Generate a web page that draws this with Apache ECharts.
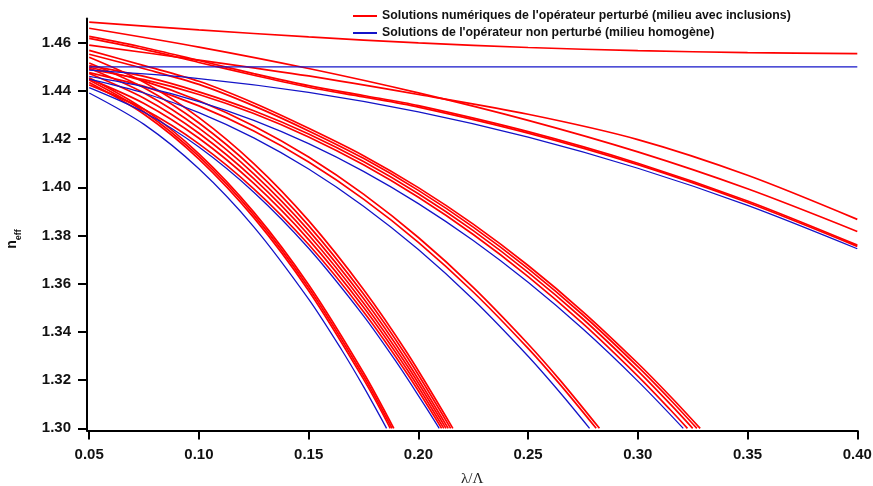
<!DOCTYPE html>
<html>
<head>
<meta charset="utf-8">
<script src="https://cdn.jsdelivr.net/npm/echarts@6/dist/echarts.min.js"></script>
<style>html,body{margin:0;padding:0;background:#fff}#c{width:873px;height:486px}</style>
</head>
<body>
<div id="c"></div>
<script>
// ---- tick labels ----
const xTicks = [0.05, 0.10, 0.15, 0.20, 0.25, 0.30, 0.35, 0.40];
const yTicks = [1.30, 1.32, 1.34, 1.36, 1.38, 1.40, 1.42, 1.44, 1.46];

const nameRed = "Solutions numériques de l'opérateur perturbé (milieu avec inclusions)";
const nameBlue = "Solutions de l'opérateur non perturbé (milieu homogène)";

// ---- red curves (perturbed operator) : [lambda/Lambda, n_eff] ----
const redTop = [[0.05,1.4685],[0.10,1.4653],[0.15,1.4624],[0.20,1.4599],[0.25,1.4580],[0.30,1.4567],[0.35,1.4559],[0.40,1.4555]];
const redB = [[0.05,1.4660],[0.10,1.4582],[0.15,1.4493],[0.20,1.4392],[0.25,1.4278],[0.30,1.4147],[0.35,1.3994],[0.40,1.3817]];
const redC = [[0.05,1.4590],[0.10,1.4528],[0.15,1.4462],[0.20,1.4385],[0.25,1.4303],[0.30,1.4198],[0.35,1.4050],[0.40,1.3867]];
const redA1 = [[0.05,1.4626],[0.075,1.4580],[0.10,1.4526],[0.125,1.4472],[0.15,1.4422],[0.175,1.4381],[0.20,1.4339],[0.25,1.4231],[0.30,1.4100],[0.35,1.3943],[0.40,1.3760]];
const redA2 = [[0.05,1.4618],[0.075,1.4572],[0.10,1.4518],[0.125,1.4465],[0.15,1.4415],[0.175,1.4375],[0.20,1.4333],[0.25,1.4225],[0.30,1.4094],[0.35,1.3937],[0.40,1.3755]];

const red32a = [[0.05,1.4490],[0.075,1.44465],[0.10,1.43853],[0.125,1.43062],[0.15,1.42090],[0.175,1.40932],[0.20,1.39584],[0.225,1.38041],[0.25,1.36295],[0.275,1.34340],[0.30,1.32165],[0.315,1.30750],[0.3226,1.30]];
const red32b = [[0.05,1.4505],[0.075,1.44600],[0.10,1.43962],[0.125,1.43178],[0.15,1.42215],[0.175,1.41067],[0.20,1.39732],[0.225,1.38203],[0.25,1.36473],[0.275,1.34536],[0.30,1.32382],[0.315,1.30981],[0.325,1.30]];
const red32c = [[0.05,1.4552],[0.075,1.4492],[0.10,1.4427],[0.125,1.4338],[0.15,1.4234],[0.175,1.41201],[0.20,1.39872],[0.225,1.38350],[0.25,1.36629],[0.275,1.34702],[0.30,1.32559],[0.315,1.31166],[0.3269,1.30]];
const red32d = [[0.05,1.4568],[0.075,1.4505],[0.10,1.4440],[0.125,1.4350],[0.15,1.4245],[0.175,1.41313],[0.20,1.39988],[0.225,1.38472],[0.25,1.36756],[0.275,1.34836],[0.30,1.32700],[0.315,1.31311],[0.3284,1.30]];

const red28a = [[0.05,1.4476],[0.075,1.44186],[0.10,1.43379],[0.125,1.42335],[0.15,1.41048],[0.175,1.39512],[0.20,1.37719],[0.225,1.35657],[0.25,1.33316],[0.265,1.31770],[0.281,1.30]];
const red28b = [[0.05,1.4498],[0.075,1.44404],[0.10,1.43595],[0.125,1.42548],[0.15,1.41257],[0.175,1.39716],[0.20,1.37917],[0.225,1.35849],[0.25,1.33500],[0.265,1.31949],[0.2825,1.30]];

const red21a = [[0.05,1.4425],[0.075,1.43235],[0.10,1.41802],[0.125,1.39937],[0.15,1.37625],[0.175,1.34840],[0.195,1.32253],[0.2106,1.30]];
const red21b = [[0.05,1.4450],[0.075,1.43478],[0.10,1.42036],[0.125,1.40159],[0.15,1.37830],[0.175,1.35027],[0.195,1.32422],[0.2116,1.30]];
const red21c = [[0.05,1.4472],[0.075,1.43694],[0.10,1.42245],[0.125,1.40360],[0.15,1.38021],[0.175,1.35204],[0.195,1.32587],[0.2126,1.30]];
const red21d = [[0.05,1.4494],[0.075,1.43910],[0.10,1.42454],[0.125,1.40561],[0.15,1.38213],[0.175,1.35383],[0.195,1.32755],[0.2136,1.30]];
const red21e = [[0.05,1.4516],[0.075,1.44126],[0.10,1.42667],[0.125,1.40768],[0.15,1.38412],[0.175,1.35574],[0.195,1.32937],[0.2147,1.30]];
const red21f = [[0.05,1.4540],[0.075,1.44361],[0.10,1.42894],[0.125,1.40985],[0.15,1.38617],[0.175,1.35764],[0.195,1.33113],[0.2157,1.30]];

const red18a = [[0.05,1.44350],[0.075,1.43034],[0.10,1.41173],[0.125,1.38741],[0.15,1.35711],[0.175,1.32040],[0.1872,1.30]];
const red18b = [[0.05,1.44450],[0.075,1.43138],[0.10,1.41281],[0.125,1.38856],[0.15,1.35834],[0.175,1.32173],[0.188,1.30]];
const red18c = [[0.05,1.44550],[0.075,1.43242],[0.10,1.41389],[0.125,1.38971],[0.15,1.35957],[0.175,1.32307],[0.1888,1.30]];

// ---- blue curves (unperturbed operator, homogeneous medium) ----
const blue0 = [[0.05,1.45],[0.40,1.45]];
const blue1 = [[0.05,1.44858],[0.10,1.44513],[0.15,1.43939],[0.20,1.43130],[0.25,1.42082],[0.30,1.40791],[0.35,1.39251],[0.40,1.37451]];
const blue2 = [[0.05,1.44600],[0.075,1.44168],[0.10,1.43560],[0.125,1.42776],[0.15,1.41810],[0.175,1.40661],[0.20,1.39324],[0.225,1.37792],[0.25,1.36059],[0.275,1.34119],[0.30,1.31960],[0.3207,1.30]];
const blue3 = [[0.05,1.44489],[0.075,1.43913],[0.10,1.43102],[0.125,1.42053],[0.15,1.40760],[0.175,1.39217],[0.20,1.37415],[0.225,1.35343],[0.25,1.32990],[0.265,1.31436],[0.278,1.30]];
const blue4 = [[0.05,1.44137],[0.075,1.43115],[0.10,1.41673],[0.125,1.39798],[0.15,1.37470],[0.175,1.34668],[0.19,1.32746],[0.20,1.31361],[0.2095,1.30]];
const blue5 = [[0.05,1.43915],[0.075,1.42612],[0.10,1.40768],[0.125,1.38361],[0.15,1.35361],[0.165,1.33260],[0.175,1.31728],[0.1855,1.30]];

const redCurves = [redTop, redB, redC, redA1, redA2, red32a, red32b, red32c, red32d,
  red28a, red28b, red21a, red21b, red21c, red21d, red21e, red21f, red18a, red18b, red18c];
const blueCurves = [blue0, blue1, blue2, blue3, blue4, blue5];

const RED = '#ff0000', BLUE = '#1414c8';
const series = [];
redCurves.forEach(d => series.push({
  name: nameRed, type: 'line', data: d, smooth: 0.3, showSymbol: false, symbol: 'none',
  lineStyle: { color: RED, width: 1.7 }, itemStyle: { color: RED }, z: 2
}));
blueCurves.forEach(d => series.push({
  name: nameBlue, type: 'line', data: d, smooth: 0.3, showSymbol: false, symbol: 'none',
  lineStyle: { color: BLUE, width: 1.3 }, itemStyle: { color: BLUE }, z: 3
}));

const chart = echarts.init(document.getElementById('c'), null, { renderer: 'canvas' });
const FONT = 'Liberation Sans, Arial, sans-serif';
const axisFont = { fontFamily: FONT, fontWeight: 'bold', fontSize: 15, color: '#111' };
chart.setOption({
  animation: false,
  backgroundColor: '#fff',
  grid: { left: 87, right: 15.7, top: 18.6, bottom: 55.5, containLabel: false, outerBoundsMode: 'none' },
  legend: {
    left: 353, top: 9, padding: 0, orient: 'vertical', itemGap: 3, itemWidth: 24, itemHeight: 2,
    selectedMode: false, icon: 'rect',
    textStyle: { fontFamily: FONT, fontWeight: 'bold', fontSize: 12.3, color: '#111', lineHeight: 14 },
    data: [{ name: nameRed, itemStyle: { color: RED } }, { name: nameBlue, itemStyle: { color: BLUE } }]
  },
  graphic: [{
    type: 'text', x: 14, y: 239, rotation: Math.PI / 2, silent: true,
    style: {
      text: '{n|n}{s|eff}', align: 'center', verticalAlign: 'middle',
      rich: {
        n: { fontFamily: FONT, fontWeight: 'bold', fontSize: 14, fill: '#111', lineHeight: 18, verticalAlign: 'top' },
        s: { fontFamily: FONT, fontWeight: 'bold', fontSize: 9, fill: '#111', lineHeight: 9, verticalAlign: 'bottom' }
      }
    }
  }],
  xAxis: {
    type: 'value', min: 0.049, max: 0.40,
    axisLine: { show: true, onZero: false, lineStyle: { color: '#000', width: 2 } },
    axisTick: { show: true, length: 9, lineStyle: { color: '#000', width: 2 }, customValues: xTicks },
    axisLabel: { ...axisFont, margin: 17, customValues: xTicks, formatter: v => v.toFixed(2) },
    splitLine: { show: false },
    name: 'λ/Λ', nameLocation: 'middle', nameGap: 41,
    nameTextStyle: { fontFamily: 'Liberation Serif, Times New Roman, serif', fontSize: 15, color: '#222' }
  },
  yAxis: {
    type: 'value', min: 1.2991, max: 1.47,
    axisLine: { show: true, onZero: false, lineStyle: { color: '#000', width: 2 } },
    axisTick: { show: true, length: 9, lineStyle: { color: '#000', width: 2 }, customValues: yTicks },
    axisLabel: { ...axisFont, margin: 16, customValues: yTicks, formatter: v => v.toFixed(2) },
    splitLine: { show: false }
  },
  series: series
});
</script>
</body>
</html>
